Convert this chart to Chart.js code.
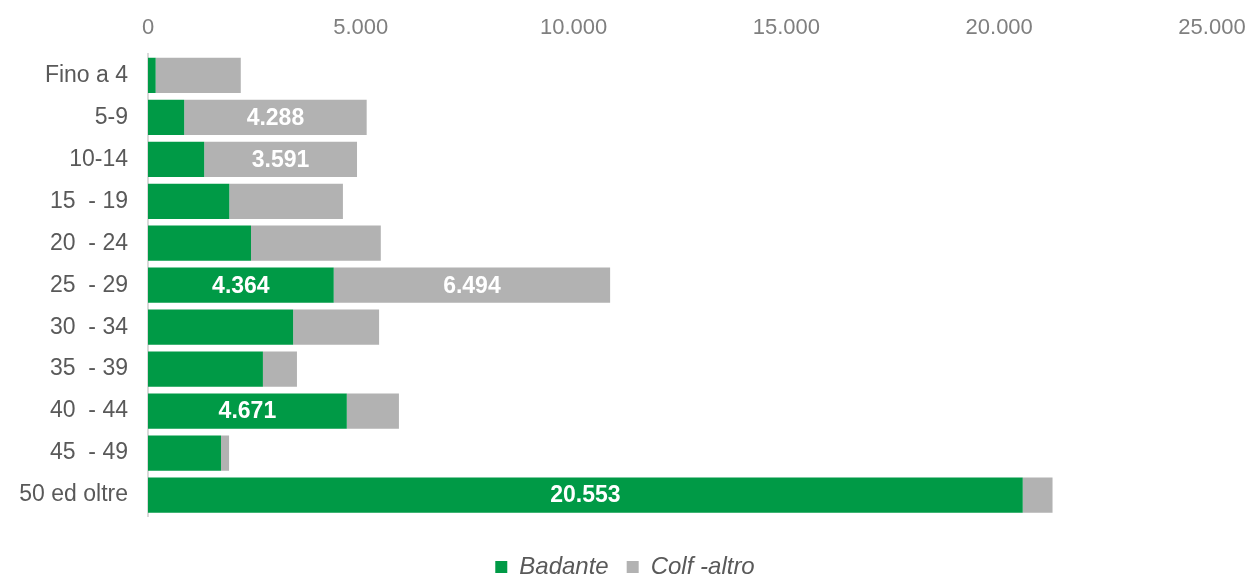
<!DOCTYPE html>
<html>
<head>
<meta charset="utf-8">
<script src="https://cdn.jsdelivr.net/npm/chart.js@4.4.1/dist/chart.umd.min.js"></script>
<style>
html,body{margin:0;padding:0;background:#fff;}
#wrap{width:1250px;height:574px;position:relative;}
</style>
</head>
<body>
<div id="wrap"><canvas id="c" width="1250" height="574"></canvas></div>
<script>
const categories = ["Fino a 4","5-9","10-14","15  - 19","20  - 24","25  - 29","30  - 34","35  - 39","40  - 44","45  - 49","50 ed oltre"];
const badante = [180, 850, 1320, 1910, 2420, 4364, 3410, 2700, 4671, 1715, 20553];
const colfAltro = [2000, 4288, 3591, 2670, 3050, 6494, 2020, 800, 1225, 190, 700];
const xTicks = [0, 5000, 10000, 15000, 20000, 25000];
const labelThreshold = 3500;

const FONT = "'Liberation Sans',Arial,sans-serif";
const fmt = v => String(Math.round(v)).replace(/\B(?=(\d{3})+(?!\d))/g, '.');

const segLabels = {
  id: 'segLabels',
  afterDatasetsDraw(chart) {
    const ctx = chart.ctx;
    ctx.save();
    ctx.font = "bold 23px " + FONT;
    ctx.fillStyle = '#ffffff';
    ctx.textAlign = 'center';
    ctx.textBaseline = 'middle';
    chart.data.datasets.forEach((ds, di) => {
      const meta = chart.getDatasetMeta(di);
      meta.data.forEach((bar, i) => {
        const v = ds.data[i];
        if (v > labelThreshold) {
          const cx = (bar.x + bar.base) / 2;
          ctx.fillText(fmt(v), cx, bar.y + 1);
        }
      });
    });
    ctx.restore();
  }
};

new Chart(document.getElementById('c'), {
  type: 'bar',
  data: {
    labels: categories,
    datasets: [
      { label: 'Badante', data: badante, backgroundColor: '#009a46', borderWidth: 0 },
      { label: 'Colf -altro', data: colfAltro, backgroundColor: '#b2b2b2', borderWidth: 0 }
    ]
  },
  options: {
    indexAxis: 'y',
    responsive: false,
    animation: false,
    layout: { padding: { left: 0, right: 0, top: 2, bottom: -15 } },
    categoryPercentage: 0.84,
    barPercentage: 1.0,
    scales: {
      x: {
        position: 'top',
        stacked: true,
        min: 0, max: 25000,
        afterBuildTicks(s) { s.ticks = xTicks.map(v => ({ value: v })); },
        afterFit(s) { s.paddingRight = 38; s.paddingLeft = 0; },
        grid: { display: false, drawTicks: false },
        border: { display: false },
        ticks: {
          color: '#7f7f7f',
          font: { family: FONT, size: 22 },
          padding: 13,
          callback: v => fmt(v)
        }
      },
      x2: {
        type: 'linear',
        position: 'bottom',
        display: true,
        afterFit(s) { s.height = 21; s.paddingRight = 38; s.paddingLeft = 0; },
        grid: { display: false, drawTicks: false },
        border: { display: false },
        ticks: { display: false }
      },
      y: {
        stacked: true,
        afterFit(s) { s.width = 148; },
        grid: { display: false, drawTicks: false },
        border: { display: true, color: '#d9d9d9', width: 2 },
        ticks: {
          color: '#595959',
          font: { family: FONT, size: 23 },
          padding: 20
        }
      }
    },
    plugins: {
      legend: {
        position: 'bottom',
        labels: {
          color: '#595959',
          font: { family: FONT, size: 24, style: 'italic' },
          boxWidth: 12, boxHeight: 12,
          padding: 18
        }
      },
      tooltip: { enabled: false }
    }
  },
  plugins: [segLabels]
});
</script>
</body>
</html>
